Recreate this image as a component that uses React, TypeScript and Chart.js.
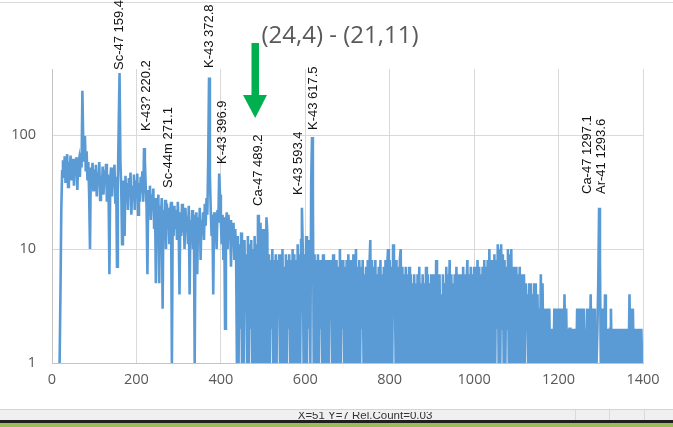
import React, { useEffect, useRef } from 'react';
import { Chart, registerables } from 'chart.js';

Chart.register(...registerables);

// ---------- data (2 keV bins, counts) ----------
const BIN_START = 0;
const BIN_WIDTH = 2;

// E 0 - 98
const counts000 = [
  null, null, null, null, null, null, null, null, null,
  1, 4, 22, 48, 60, 42, 65, 38, 56, 68,
  35, 58, 45, 66, 40, 54, 62, 36, 59, 47,
  64, 33, 55, 61, 43, 70, 52, 245, 85, 60,
  98, 48, 72, 40, 58, 30, 10, 52, 38, 57,
  32,
];
// E 100 - 198
const counts100 = [
  50, 33, 55, 29, 47, 36, 58, 27, 44, 31,
  53, 30, 49, 40, 56, 26, 45, 32, 6, 42,
  52, 29, 48, 35, 55, 25, 43, 7, 38, 120,
  350, 60, 34, 11, 40, 27, 13, 44, 28, 38,
  22, 42, 30, 47, 20, 36, 27, 45, 22, 40,
];
// E 200 - 298
const counts200 = [
  28, 46, 20, 38, 26, 43, 31, 48, 26, 77,
  60, 35, 24, 6, 33, 22, 36, 18, 30, 24,
  34, 15, 28, 5, 26, 19, 30, 5, 24, 18,
  28, 3, 22, 14, 27, 10, 25, 18, 23, 11,
  21, 26, 1, 20, 13, 24, 15, 22, 12, 26,
];
// E 300 - 398
const counts300 = [
  17, 4, 21, 13, 25, 14, 20, 10, 23, 16,
  19, 11, 24, 4, 18, 13, 22, 10, 20, 1,
  17, 21, 6, 19, 12, 23, 8, 18, 14, 21,
  12, 25, 16, 28, 20, 60, 320, 45, 22, 13,
  20, 4, 21, 15, 19, 10, 22, 17, 46, 30,
];
// E 400 - 498
const counts400 = [
  18, 11, 20, 8, 19, 2, 17, 21, 10, 20,
  14, 18, 7, 16, 12, 17, 8, 15, 10, 1,
  13, 1, 11, 2, 14, 1, 10, 1, 12, 3,
  9, 1, 13, 1, 11, 2, 12, 1, 10, 1,
  13, 1, 11, 1, 20, 14, 1, 17, 1, 12,
];
// E 500 - 598
const counts500 = [
  15, 1, 11, 1, 19, 14, 1, 9, 1, 8,
  2, 10, 1, 8, 1, 9, 1, 8, 3, 9,
  1, 8, 1, 10, 1, 7, 1, 9, 1, 8,
  2, 9, 1, 8, 1, 10, 1, 9, 1, 8,
  1, 11, 1, 9, 1, 12, 23, 10, 1, 9,
];
// E 600 - 698
const counts600 = [
  1, 13, 1, 11, 2, 12, 1, 40, 96, 30,
  1, 9, 1, 8, 1, 9, 1, 8, 2, 8,
  1, 9, 1, 7, 1, 8, 1, 8, 1, 7,
  3, 8, 1, 9, 1, 8, 1, 8, 1, 7,
  1, 10, 1, 8, 2, 8, 1, 7, 1, 8,
];
// E 700 - 798
const counts700 = [
  1, 9, 1, 8, 1, 7, 1, 9, 1, 8,
  10, 1, 7, 1, 8, 1, 7, 2, 8, 1,
  6, 1, 7, 1, 8, 1, 7, 12, 1, 8,
  1, 7, 1, 8, 1, 6, 1, 7, 1, 8,
  1, 6, 1, 7, 1, 8, 1, 7, 10, 1,
];
// E 800 - 898
const counts800 = [
  8, 1, 7, 1, 11, 3, 7, 1, 8, 1,
  7, 1, 8, 10, 1, 7, 1, 6, 1, 7,
  1, 6, 1, 7, 1, 6, 1, 5, 1, 6,
  1, 5, 1, 6, 1, 7, 1, 5, 1, 6,
  1, 5, 1, 7, 1, 6, 1, 5, 1, 6,
];
// E 900 - 998
const counts900 = [
  1, 5, 1, 6, 1, 8, 1, 5, 1, 6,
  1, 4, 1, 6, 1, 5, 1, 7, 1, 6,
  3, 8, 1, 6, 1, 5, 1, 6, 1, 7,
  1, 6, 1, 5, 1, 6, 1, 7, 1, 6,
  1, 5, 8, 1, 6, 1, 7, 1, 6, 1,
];
// E 1000 - 1098
const counts1000 = [
  7, 1, 6, 1, 8, 1, 7, 1, 6, 1,
  7, 1, 8, 1, 7, 1, 8, 1, 10, 1,
  8, 1, 7, 1, 9, 1, 8, 2, 11, 1,
  10, 1, 11, 2, 9, 1, 8, 1, 7, 2,
  10, 1, 9, 1, 10, 1, 7, 1, 7, 1,
];
// E 1100 - 1198
const counts1100 = [
  7, 1, 6, 1, 7, 1, 5, 6, 1, 6,
  1, 5, 2, 4, 1, 5, 1, 5, 1, 4,
  1, 5, 1, 5, 1, 4, 1, 3, 1, 6,
  1, 5, 1, 3, 1, 3, 1, 3, 1, 3,
  1, 2, 1, 2, 1, 3, 1, 3, 1, 3,
];
// E 1200 - 1298
const counts1200 = [
  1, 3, 1, 3, 1, 3, 1, 4, 1, 3,
  1, 2, 1, 2, 2, 1, 2, 1, 2, 1,
  2, 1, 3, 1, 3, 1, 3, 1, 3, 1,
  3, 1, 2, 1, 3, 1, 3, 1, 4, 1,
  3, 1, 3, 1, 2, 1, 2, 5, 23, 8,
];
// E 1300 - 1398
const counts1300 = [
  1, 3, 1, 3, 1, 4, 1, 2, 1, 2,
  1, 2, 3, 1, 2, 1, 2, 1, 2, 1,
  2, 1, 2, 1, 2, 1, 2, 1, 2, 1,
  2, 1, 2, 1, 4, 1, 3, 1, 3, 1,
  2, 1, 2, 1, 2, 1, 2, 1, 2, 1,
];

const allCounts: (number | null)[] = [
  ...counts000, ...counts100, ...counts200, ...counts300, ...counts400,
  ...counts500, ...counts600, ...counts700, ...counts800, ...counts900,
  ...counts1000, ...counts1100, ...counts1200, ...counts1300,
];
const energies = allCounts.map((_, i) => BIN_START + i * BIN_WIDTH);

const xTicks = [0, 200, 400, 600, 800, 1000, 1200, 1400];
const yTicks = [1, 10, 100];
const X_MIN = 0;
const X_MAX = 1400;
const Y_MIN = 1;
const Y_MAX = 380;

const peakTexts = [
  'Sc-47 159.4', 'K-43? 220.2', 'Sc-44m 271.1', 'K-43 372.8', 'K-43 396.9',
  'Ca-47 489.2', 'K-43 593.4', 'K-43 617.5', 'Ca-47 1297.1', 'Ar-41 1293.6',
];
const peakEnergies = [159.4, 220.2, 271.1, 372.8, 396.9, 489.2, 593.4, 617.5, 1297.1, 1293.6];

const titleText = '(24,4) - (21,11)';
const statusText = 'X=51 Y=7 Rel.Count=0.03';

// ---------- layout / style (not data) ----------
const labelPlacement = [
  { dx: 0, bottom: 70 },
  { dx: 1, bottom: 131 },
  { dx: 2, bottom: 188 },
  { dx: 0, bottom: 68 },
  { dx: 3, bottom: 164 },
  { dx: 0, bottom: 206 },
  { dx: -4, bottom: 195 },
  { dx: 1, bottom: 130 },
  { dx: -12, bottom: 194 },
  { dx: 3, bottom: 194 },
];

const W = 673;
const H = 427;

const overlayPlugin = {
  id: 'overlay',
  afterDraw(chart: any) {
    const ctx = chart.ctx as CanvasRenderingContext2D;
    const xs = chart.scales.x;
    ctx.save();

    // top gray line of window
    ctx.fillStyle = '#dcdcdc';
    ctx.fillRect(0, 2, W, 1);

    // title
    ctx.fillStyle = '#595959';
    ctx.font = '24px "Open Sans", sans-serif';
    ctx.textAlign = 'center';
    ctx.textBaseline = 'alphabetic';
    ctx.fillText(titleText, 340, 43);

    // green arrow
    ctx.fillStyle = '#00B050';
    ctx.fillRect(251.5, 43, 7.5, 53);
    ctx.beginPath();
    ctx.moveTo(243, 95);
    ctx.lineTo(267, 95);
    ctx.lineTo(255.2, 118);
    ctx.closePath();
    ctx.fill();

    // peak labels (rotated)
    ctx.fillStyle = '#111';
    ctx.font = '13px "Liberation Sans", Arial, sans-serif';
    ctx.textAlign = 'left';
    ctx.textBaseline = 'middle';
    peakTexts.forEach((t, i) => {
      const p = labelPlacement[i];
      const x = xs.getPixelForValue(peakEnergies[i]) + p.dx;
      ctx.save();
      ctx.translate(x, p.bottom);
      ctx.rotate(-Math.PI / 2);
      ctx.fillText(t, 0, 0);
      ctx.restore();
    });

    // status bar
    ctx.fillStyle = '#f0f0f0';
    ctx.fillRect(0, 410, W, 10);
    ctx.fillStyle = '#d4d4d4';
    ctx.fillRect(0, 409, W, 1);
    ctx.fillStyle = '#dadada';
    [575, 609, 644].forEach((x) => ctx.fillRect(x, 410, 1, 10));
    ctx.save();
    ctx.beginPath();
    ctx.rect(0, 412, W, 8);
    ctx.clip();
    ctx.fillStyle = '#333';
    ctx.font = '11.5px "Liberation Sans", Arial, sans-serif';
    ctx.textAlign = 'center';
    ctx.textBaseline = 'alphabetic';
    ctx.fillText(statusText, 365, 419);
    ctx.restore();
    ctx.fillStyle = '#1e1e1e';
    ctx.fillRect(0, 420, W, 3);
    ctx.fillStyle = '#9bbb59';
    ctx.fillRect(0, 423, W, 4);

    ctx.restore();
  },
};

export default function App() {
  const ref = useRef<HTMLCanvasElement | null>(null);

  useEffect(() => {
    if (!ref.current) return;
    const points = allCounts.map((c, i) => ({ x: energies[i], y: c }));
    const tickFont = { family: '"Open Sans", sans-serif', size: 14.5 };
    const chart = new Chart(ref.current, {
      type: 'line',
      data: {
        datasets: [
          {
            data: points as any,
            borderColor: '#5B9BD5',
            borderWidth: 2.6,
            pointRadius: 0,
            tension: 0,
            fill: false,
            spanGaps: false,
          },
        ],
      },
      plugins: [overlayPlugin],
      options: {
        animation: false,
        responsive: false,
        devicePixelRatio: 1,
        layout: { padding: { top: 69, right: 30, left: 0, bottom: 0 } },
        plugins: {
          legend: { display: false },
          tooltip: { enabled: false },
          title: { display: false },
        },
        scales: {
          x: {
            type: 'linear',
            min: X_MIN,
            max: X_MAX,
            afterBuildTicks: (s: any) => {
              s.ticks = xTicks.map((v) => ({ value: v }));
            },
            afterFit: (s: any) => {
              s.height = 64;
            },
            ticks: {
              color: '#595959',
              font: tickFont,
              padding: 8,
              maxRotation: 0,
              autoSkip: false,
              callback: (v: any) => String(v),
            },
            grid: { color: '#d9d9d9', lineWidth: 1, drawTicks: false },
            border: { color: '#c4c4c4', width: 1 },
          },
          y: {
            type: 'logarithmic',
            min: Y_MIN,
            max: Y_MAX,
            afterBuildTicks: (s: any) => {
              s.ticks = yTicks.map((v) => ({ value: v }));
            },
            afterFit: (s: any) => {
              s.width = 52;
            },
            ticks: {
              color: '#595959',
              font: tickFont,
              padding: 16,
              autoSkip: false,
              callback: (v: any) => String(v),
            },
            grid: { color: '#d9d9d9', lineWidth: 1, drawTicks: false },
            border: { color: '#c4c4c4', width: 1 },
          },
        },
      },
    } as any);
    return () => chart.destroy();
  }, []);

  return (
    <div
      style={{
        position: 'fixed',
        left: 0,
        top: 0,
        width: W,
        height: H,
        background: '#ffffff',
        overflow: 'hidden',
      }}
    >
      <canvas ref={ref} width={W} height={H} style={{ display: 'block', width: W, height: H }} />
    </div>
  );
}
